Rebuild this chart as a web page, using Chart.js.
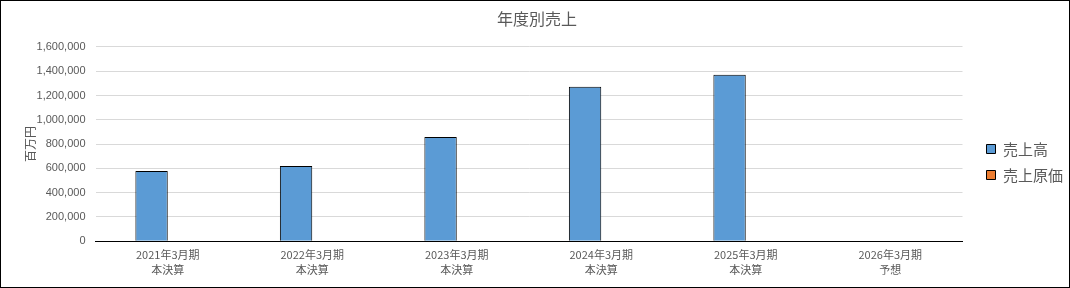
<!DOCTYPE html>
<html>
<head>
<meta charset="utf-8">
<script src="https://cdn.jsdelivr.net/npm/chart.js@4/dist/chart.umd.min.js"></script>
<style>
  html, body { margin: 0; padding: 0; background: #fff; }
  #wrap { width: 1070px; height: 288px; box-sizing: border-box; border: 1px solid #000; }
</style>
</head>
<body>
<div id="wrap"><canvas id="stage" width="1068" height="286"></canvas></div>
<script>
// 年度別データ
let labelset = [
  ['2021年3月期', '本決算'],
  ['2022年3月期', '本決算'],
  ['2023年3月期', '本決算'],
  ['2024年3月期', '本決算'],
  ['2025年3月期', '本決算'],
  ['2026年3月期', '予想']
];
let sales = [578000, 619000, 859000, 1272000, 1371000, null];   // 売上高
let costs = [null, null, null, null, null, null];               // 売上原価

const fontJP = '"Noto Sans CJK JP", "Liberation Sans", sans-serif';
const grey = '#595959';

// 凡例の幅と位置をExcel風に合わせる
const legendPlace = {
  id: 'legendPlace',
  beforeLayout(chart) {
    const lg = chart.legend;
    if (!lg || lg._patched) return;
    const fit = lg.fit;
    lg.fit = function () { fit.call(this); this.width = 106.5; };
    lg._patched = true;
  },
  afterLayout(chart) {
    const lg = chart.legend;
    lg.left += 13;
    lg.right += 13;
    lg.top += 19.5;
    lg.bottom += 19.5;
  }
};

var mydata = {
  labels: labelset,
  datasets: [
    {
      label: '売上高',
      data: sales,
      backgroundColor: '#5b9bd5',
      borderColor: '#000',
      borderWidth: 1,
      borderSkipped: 'bottom'
    },
    {
      label: '売上原価',
      data: costs,
      backgroundColor: '#ed7d31',
      borderColor: '#000',
      borderWidth: 1,
      borderSkipped: 'bottom'
    }
  ]
};

var options = {
  responsive: false,
  animation: false,
  categoryPercentage: 0.448,
  barPercentage: 1.0,
  layout: { padding: { left: 4, right: 0, top: 0, bottom: 3 } },
  plugins: {
    title: {
      display: true,
      text: '年度別売上',
      color: grey,
      font: { family: fontJP, size: 16, weight: 'normal' },
      padding: { top: 8, bottom: 18.7 }
    },
    legend: {
      position: 'right',
      labels: {
        color: grey,
        font: { family: fontJP, size: 15 },
        boxWidth: 9,
        boxHeight: 9,
        padding: 11
      }
    },
    tooltip: { enabled: false }
  },
  scales: {
    x: {
      grid: { display: false, drawTicks: false },
      border: { color: '#000', width: 1 },
      ticks: {
        color: grey,
        font: { family: fontJP, size: 11, lineHeight: 1.4 },
        padding: 6,
        maxRotation: 0
      }
    },
    y: {
      min: 0,
      max: 1600000,
      afterFit: scale => { scale.width = 90.5; },
      grid: { color: '#d9d9d9', drawTicks: false },
      border: { display: false },
      ticks: {
        stepSize: 200000,
        color: grey,
        font: { family: '"Liberation Sans", sans-serif', size: 11 },
        padding: 10,
        callback: v => v.toLocaleString('en-US')
      },
      title: {
        display: true,
        text: '百万円',
        color: grey,
        font: { family: fontJP, size: 12 },
        padding: { top: 17.8, bottom: 0 }
      }
    }
  }
};

var canvas = document.getElementById('stage');
var chart = new Chart(canvas, {
  type: 'bar',
  data: mydata,
  options: options,
  plugins: [legendPlace]
});
</script>
</body>
</html>
